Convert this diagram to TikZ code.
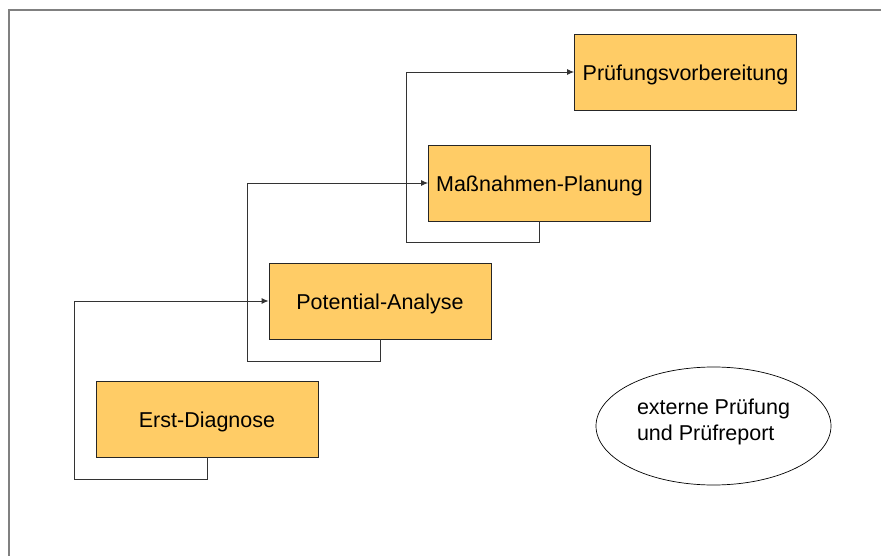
\documentclass[tikz,border=0pt]{standalone}
\usepackage{fontspec}
\setmainfont{Liberation Sans}
\usetikzlibrary{shapes.geometric,arrows.meta}
\definecolor{boxfill}{RGB}{255,204,102}
\definecolor{framegray}{RGB}{128,128,128}
\begin{document}
\begin{tikzpicture}[x=1pt,y=-1pt]
          \useasboundingbox (0,0) rectangle (881,556);
          \draw[framegray, line width=2pt] (8,10) -- (881,10);
          \draw[framegray, line width=2pt] (9,10) -- (9,556);
          \tikzstyle{every node} = [font=\fontsize{21.5}{25.5}\selectfont]
          \tikzstyle{stage} = [draw=black!85, fill=boxfill, line width=0.8pt, minimum width=222pt, minimum height=76pt, inner sep=0pt, text height=17.2pt, text depth=0pt]
          \tikzstyle{conn} = [black!80, line width=0.9pt, -{Latex[length=7pt,width=6pt]}]
          \node[stage](ed) at (207,419) {Erst-Diagnose};
          \node[stage](pa) at (380,301) {Potential-Analyse};
          \node[stage](mp) at (539.5,183) {Maßnahmen-Planung};
          \node[stage](pv) at (685.5,72) {Prüfungsvorbereitung};
          \node[draw, ellipse, line width=0.7pt, minimum width=235pt, minimum height=118pt, inner sep=0pt, text depth=13pt, align=left](ex) at (713.5,426) {externe Prüfung\\und Prüfreport};
          \draw[conn]
          (ed.south) |- ++(-133,22) |- (pa.west);
          \draw[conn]
          (pa.south) |- ++(-133,22) |- (mp.west);
          \draw[conn]
          (mp.south) |- ++(-133,21) |- (pv.west);
\end{tikzpicture}
\end{document}
